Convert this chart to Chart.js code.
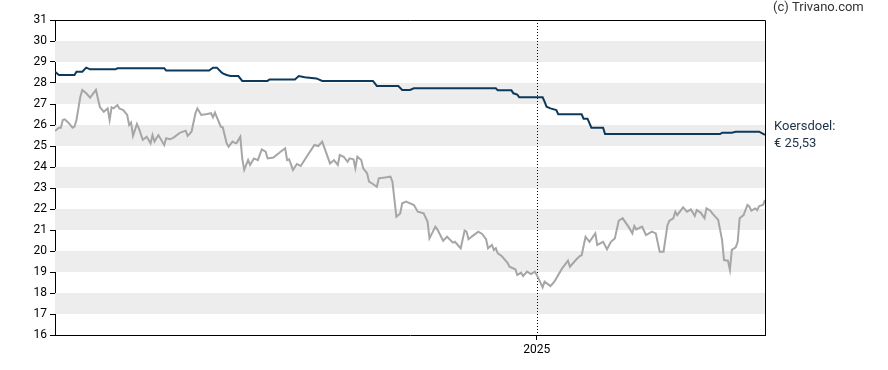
<!DOCTYPE html>
<html>
<head>
<meta charset="utf-8">
<script src="https://cdn.jsdelivr.net/npm/chart.js"></script>
<style>
  body { margin: 0; background: #fff; }
</style>
</head>
<body>
<canvas id="koersChart" width="888" height="370"></canvas>
<script>
// dagen sinds begin van de grafiek (29-04-2024 = dag 0)
const koersDagen = [
  0, 2, 3, 4, 5, 7, 9, 10, 11, 13, 14, 16, 18, 21, 23, 25, 27, 28, 29, 30,
  32, 33, 35, 37, 38, 39, 40, 42, 43, 45, 47, 49, 50, 51, 53, 56, 57, 59, 61, 64,
  67, 68, 70, 72, 73, 75, 78, 80, 81, 82, 85, 86, 88, 89, 91, 92, 93, 95, 96, 97,
  99, 100, 102, 104, 106, 108, 109, 112, 115, 118, 119, 120, 122, 124, 126, 129, 133, 135, 137, 141,
  143, 145, 146, 148, 150, 151, 153, 154, 155, 157, 158, 160, 161, 163, 165, 166, 170, 172, 173, 175,
  177, 178, 180, 184, 186, 189, 191, 192, 195, 196, 199, 201, 204, 205, 208, 210, 211, 212, 214, 217,
  219, 221, 222, 224, 225, 226, 227, 229, 232, 233, 236, 237, 239, 240, 242, 244, 246, 247, 250, 251,
  254, 256, 258, 260, 263, 264, 267, 269, 270, 272, 274, 277, 278, 281, 283, 285, 287, 289, 291, 293,
  294, 296, 297, 298, 301, 303, 306, 308, 310, 312, 314, 315, 317, 318, 319, 322, 324, 326, 328, 329,
  331, 333, 334, 336, 337, 340, 342, 343, 345, 346, 347, 349, 350, 351, 353, 355, 356, 357, 359, 360,
  361, 363, 364
];
const koers = [
  25.71, 25.87, 25.87, 26.24, 26.27, 26.10, 25.87, 25.92, 26.24, 27.35, 27.67, 27.51, 27.30, 27.67, 26.86, 26.63, 26.79, 26.24, 26.84, 26.79,
  26.95, 26.79, 26.71, 26.48, 26.00, 26.11, 25.48, 26.05, 25.84, 25.29, 25.44, 25.13, 25.52, 25.21, 25.52, 25.05, 25.37, 25.32, 25.41, 25.63,
  25.73, 25.48, 25.68, 26.56, 26.79, 26.48, 26.52, 26.56, 26.37, 26.59, 25.92, 25.89, 25.13, 24.97, 25.21, 25.16, 25.13, 25.44, 24.40, 23.86,
  24.33, 24.10, 24.41, 24.33, 24.84, 24.73, 24.41, 24.45, 24.68, 24.89, 24.33, 24.37, 23.86, 24.14, 24.05, 24.49, 25.05, 25.00, 25.21, 24.17,
  24.33, 24.10, 24.57, 24.49, 24.25, 24.41, 24.37, 23.94, 24.49, 24.33, 23.94, 23.70, 23.30, 23.19, 23.06, 23.46, 23.51, 23.54, 23.30, 21.63,
  21.79, 22.27, 22.35, 22.19, 21.87, 21.79, 21.40, 20.60, 21.16, 21.03, 20.49, 20.68, 20.40, 20.44, 20.13, 20.97, 20.92, 20.56, 20.71, 20.92,
  20.81, 20.56, 20.13, 20.29, 20.05, 20.13, 19.89, 19.76, 19.44, 19.25, 19.13, 18.86, 18.97, 18.81, 19.02, 18.90, 19.02, 18.86, 18.27, 18.54,
  18.33, 18.54, 18.86, 19.17, 19.54, 19.25, 19.57, 19.76, 19.80, 20.68, 20.44, 20.84, 20.29, 20.44, 20.08, 20.44, 20.60, 21.44, 21.56, 21.29,
  21.16, 20.84, 21.19, 21.03, 21.16, 20.76, 20.92, 20.84, 19.97, 19.97, 21.24, 21.44, 21.56, 21.87, 21.71, 22.08, 21.87, 21.98, 21.67, 21.95,
  21.83, 21.56, 22.03, 21.92, 21.79, 21.48, 20.52, 19.57, 19.54, 19.10, 20.05, 20.17, 20.44, 21.56, 21.71, 22.19, 22.11, 21.92, 22.03, 21.95,
  22.14, 22.19, 22.43
];

const doelDagen = [
  0, 2, 10, 11, 14, 16, 18, 31, 32, 56,
  57, 79, 81, 83, 85, 86, 88, 90, 94, 96,
  109, 110, 123, 125, 128, 134, 137, 163, 165, 176,
  178, 182, 184, 226, 227, 234, 235, 237, 238, 250,
  251, 252, 254, 257, 258, 270, 271, 273, 275, 281,
  282, 341, 342, 347, 349, 361, 364
];
const koersdoel = [
  28.54, 28.38, 28.38, 28.54, 28.54, 28.73, 28.65, 28.65, 28.70, 28.70,
  28.59, 28.59, 28.73, 28.73, 28.54, 28.46, 28.38, 28.33, 28.33, 28.10,
  28.10, 28.17, 28.17, 28.33, 28.27, 28.22, 28.10, 28.10, 27.86, 27.86,
  27.67, 27.67, 27.75, 27.75, 27.65, 27.65, 27.51, 27.45, 27.32, 27.32,
  27.11, 26.87, 26.79, 26.71, 26.51, 26.51, 26.30, 26.30, 25.87, 25.87,
  25.57, 25.57, 25.63, 25.63, 25.68, 25.68, 25.53
];

const jaarTicks = [247];
const jaarLabels = ['2025'];
const laatsteDag = 364;

Chart.defaults.font.family = 'Roboto';
Chart.defaults.font.size = 12;
Chart.defaults.color = '#000';

// grijze banden, stippellijn bij de jaarwissel, kader en teksten
const achtergrond = {
  id: 'achtergrond',
  beforeDatasetsDraw(chart) {
    const { ctx, chartArea: a, scales: { x, y } } = chart;
    ctx.save();
    ctx.fillStyle = '#ededed';
    for (let v = Math.ceil(y.min); v < y.max; v++) {
      if (v % 2 === 1) {
        const top = y.getPixelForValue(v + 1);
        const bot = y.getPixelForValue(v);
        ctx.fillRect(a.left, top, a.right - a.left, bot - top);
      }
    }
    ctx.strokeStyle = '#000';
    ctx.lineWidth = 1;
    ctx.setLineDash([1, 2]);
    jaarTicks.forEach(d => {
      const px = Math.round(x.getPixelForValue(d)) + 0.5;
      ctx.beginPath();
      ctx.moveTo(px, a.top);
      ctx.lineTo(px, a.bottom);
      ctx.stroke();
    });
    ctx.restore();
  },
  afterDraw(chart) {
    const { ctx, chartArea: a, scales: { y } } = chart;
    ctx.save();
    ctx.strokeStyle = '#000';
    ctx.lineWidth = 1;
    ctx.beginPath();
    ctx.moveTo(a.left, a.top + 0.5);
    ctx.lineTo(a.right + 0.5, a.top + 0.5);
    ctx.lineTo(a.right + 0.5, a.bottom);
    ctx.stroke();

    ctx.font = '13px Roboto';
    ctx.fillStyle = '#333';
    ctx.textBaseline = 'middle';
    ctx.fillText('(c) Trivano.com', 773, 8);

    const laatste = koersdoel[koersdoel.length - 1];
    const py = y.getPixelForValue(laatste);
    ctx.fillStyle = '#1c3146';
    ctx.fillText('Koersdoel:', 774, py - 8);
    ctx.fillText('€ ' + laatste.toFixed(2).replace('.', ','), 774, py + 9);
    ctx.restore();
  }
};

new Chart(document.getElementById('koersChart'), {
  type: 'line',
  data: {
    datasets: [
      {
        label: 'Koersdoel',
        data: doelDagen.map((d, i) => ({ x: d, y: koersdoel[i] })),
        borderColor: '#0d3a5c',
        borderWidth: 2,
        pointRadius: 0,
        tension: 0
      },
      {
        label: 'Koers',
        data: koersDagen.map((d, i) => ({ x: d, y: koers[i] })),
        borderColor: '#a6a6a6',
        borderWidth: 2,
        pointRadius: 0,
        tension: 0
      }
    ]
  },
  options: {
    responsive: false,
    animation: false,
    layout: { padding: { top: 20, right: 123, left: 0, bottom: 0 } },
    plugins: {
      legend: { display: false },
      tooltip: { enabled: false }
    },
    scales: {
      x: {
        type: 'linear',
        min: 0,
        max: laatsteDag,
        afterBuildTicks: (scale) => { scale.ticks = jaarTicks.map(v => ({ value: v })); },
        afterFit: (scale) => { scale.height = 35; },
        ticks: {
          autoSkip: false,
          maxRotation: 0,
          padding: 3,
          callback: (v) => jaarLabels[jaarTicks.indexOf(v)]
        },
        grid: { drawOnChartArea: false, drawTicks: true, tickLength: 5, color: '#000' },
        border: { display: true, color: '#000', width: 1 }
      },
      y: {
        min: 16,
        max: 31,
        afterFit: (scale) => { scale.width = 55; },
        ticks: { stepSize: 1, maxTicksLimit: 20, autoSkip: false, padding: 3 },
        grid: { drawOnChartArea: false, drawTicks: true, tickLength: 5, color: '#000' },
        border: { display: true, color: '#000', width: 1 }
      }
    }
  },
  plugins: [achtergrond]
});
</script>
</body>
</html>
